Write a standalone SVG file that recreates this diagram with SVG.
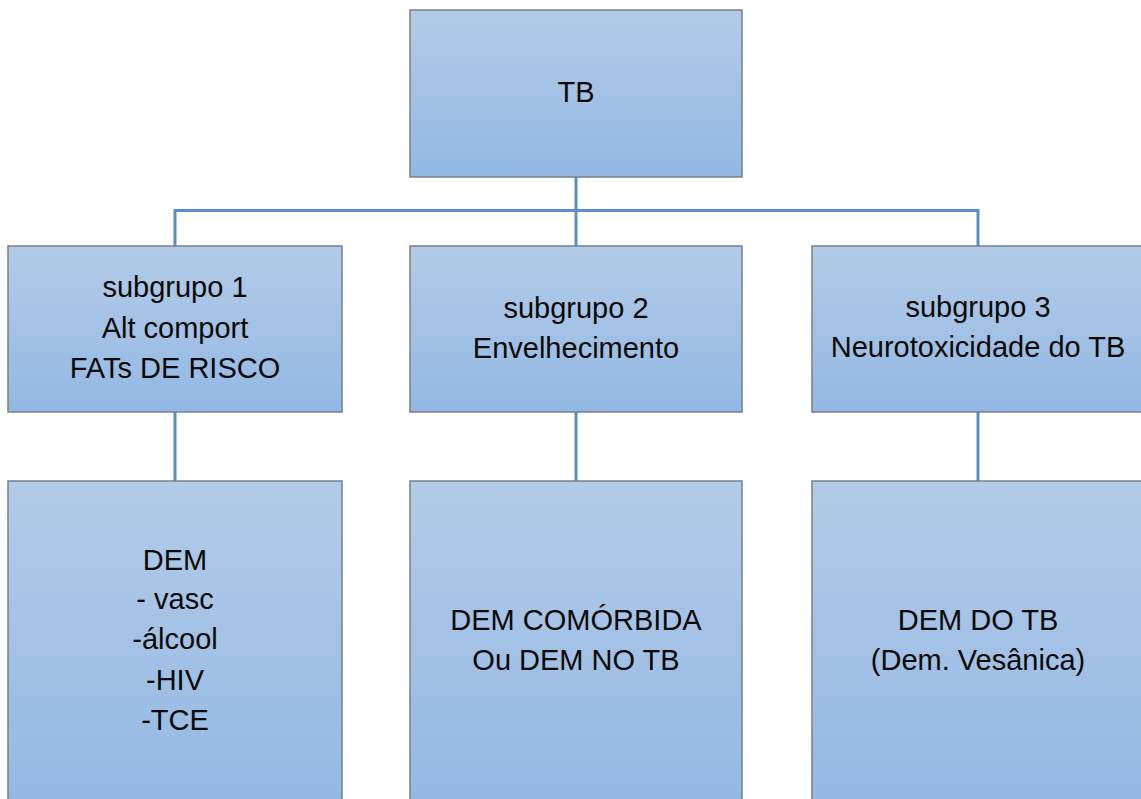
<svg xmlns="http://www.w3.org/2000/svg" width="1141" height="799" viewBox="0 0 1141 799">
<style>
.box{fill:url(#g);stroke:#74808f;stroke-width:1.5}
.t{font-family:"Liberation Sans",Arial,sans-serif;font-size:29px;fill:#0a0a0a;text-anchor:middle}
.c{stroke:#5b8ec6;stroke-width:3;fill:none}
</style>
<defs>
<linearGradient id="g" x1="0" y1="0" x2="0" y2="1">
<stop offset="0" stop-color="#b3cbe8"/>
<stop offset="1" stop-color="#93b8e3"/>
</linearGradient>
</defs>
<rect width="1141" height="799" fill="#fff"/>
<g id="connectors">
<path class="c" d="M576 177V246M175 210.5H978M175 209V246M978 209V246"/>
<path class="c" d="M175 412V481M576 412V481M978 412V481" stroke="#6d9fd3"/>
</g>
<g id="tb">
<rect class="box" x="410" y="10" width="332" height="167"/>
<text class="t" x="576" y="102">TB</text>
</g>
<g id="sub1">
<rect class="box" x="8" y="246" width="334" height="166"/>
<text class="t" x="175" y="297">subgrupo  1</text>
<text class="t" x="175" y="337.5">Alt comport</text>
<text class="t" x="175" y="378">FATs DE RISCO</text>
</g>
<g id="sub2">
<rect class="box" x="410" y="246" width="332" height="166"/>
<text class="t" x="576" y="318">subgrupo  2</text>
<text class="t" x="576" y="358">Envelhecimento</text>
</g>
<g id="sub3">
<rect class="box" x="812" y="246" width="332" height="166"/>
<text class="t" x="978" y="317">subgrupo  3</text>
<text class="t" x="978" y="357">Neurotoxicidade do TB</text>
</g>
<g id="dem1">
<rect class="box" x="8" y="481" width="334" height="330"/>
<text class="t" x="175" y="570">DEM</text>
<text class="t" x="175" y="609">- vasc</text>
<text class="t" x="175" y="649">-álcool</text>
<text class="t" x="175" y="690">-HIV</text>
<text class="t" x="175" y="730">-TCE</text>
</g>
<g id="dem2">
<rect class="box" x="410" y="481" width="332" height="330"/>
<text class="t" x="576" y="630">DEM COMÓRBIDA</text>
<text class="t" x="576" y="670">Ou DEM NO TB</text>
</g>
<g id="dem3">
<rect class="box" x="812" y="481" width="332" height="330"/>
<text class="t" x="978" y="630">DEM DO TB</text>
<text class="t" x="978" y="670">(Dem. Vesânica)</text>
</g>
</svg>
